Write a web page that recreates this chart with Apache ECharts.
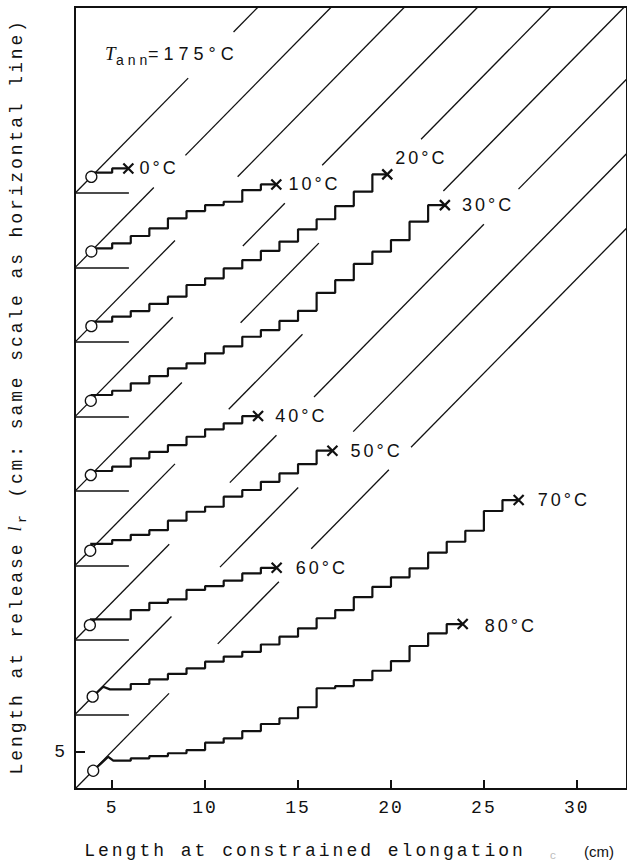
<!DOCTYPE html>
<html><head><meta charset="utf-8">
<script src="https://cdn.jsdelivr.net/npm/echarts@6/dist/echarts.min.js"></script>
<style>
html,body{margin:0;padding:0;background:#fff;}
#c{width:627px;height:864px;}
text[style*="tlabel"]{letter-spacing:3px;}
text[style*="xtitle"]{letter-spacing:3px;}
text[style*="ytitle"]{letter-spacing:2.9px;}
text[style*="tann"]{letter-spacing:5px;}
text[style*="tsub"]{letter-spacing:4px;}
text[style*="ticklbl"]{letter-spacing:2px;}
</style></head><body><div id="c"></div>
<script>
// ---------------- data (cm) ----------------
const temps = ['0°C','10°C','20°C','30°C','40°C','50°C','60°C','70°C','80°C'];
const baseLen = [35, 31, 27, 23, 19, 15, 11, 7, 3];          // vertical offset of each curve
const startX = [3.88, 3.88, 3.88, 3.85, 3.85, 3.82, 3.80, 3.95, 3.98];
const startY = [35.88, 31.87, 27.86, 23.85, 19.86, 15.80, 11.80, 7.96, 3.98];
const endX   = [5.87, 13.83, 19.80, 22.90, 12.85, 16.85, 13.85, 26.87, 23.86];
const firstRiser = [5, 5, 5, 5, 5, 5, 6, 6, 6];
const lv0  = [36.10, 36.33];
const lv10 = [32.04, 32.31, 32.70, 33.11, 33.65, 34.04, 34.36, 34.54, 35.17, 35.47];
const lv20 = [28.10, 28.37, 28.67, 29.05, 29.44, 30.07, 30.43, 30.96, 31.41, 31.90, 32.40, 33.06, 33.60, 34.31, 35.08, 36.01];
const lv30 = [24.16, 24.39, 24.79, 25.18, 25.59, 25.86, 26.40, 26.77, 27.29, 27.65, 28.14, 28.68, 29.65, 30.33, 31.20, 31.86, 32.48, 33.47, 34.36];
const lv40 = [20.08, 20.31, 20.76, 21.11, 21.47, 21.92, 22.32, 22.64, 23.03];
const lv50 = [16.16, 16.37, 16.65, 16.90, 17.41, 17.89, 18.16, 18.70, 19.06, 19.50, 19.95, 20.45, 21.17];
const lv60 = [12.11, 12.61, 13.00, 13.18, 13.69, 13.90, 14.19, 14.58, 14.88];
const lv70 = [8.35, 8.64, 8.89, 9.18, 9.48, 9.84, 10.11, 10.37, 10.76, 11.18, 11.63, 12.17, 12.61, 13.30, 13.86, 14.37, 14.85, 15.69, 16.28, 16.87, 17.93, 18.52];
const lv80 = [4.52, 4.65, 4.77, 4.92, 5.09, 5.49, 5.72, 6.11, 6.49, 6.80, 7.39, 8.41, 8.53, 8.85, 9.35, 9.87, 10.68, 11.36, 11.86];
const hook70 = [[4.52, 8.49], [4.88, 8.35]];
const hook80 = [[4.79, 4.73], [5.06, 4.52]];
const xTicks = [5, 10, 15, 20, 25, 30];
const yTicks = [5];
const baselineEnd = 5.9;
const diagSlope = 1.015;   // reference lines l_r = l_c (drawn slightly steeper than 45° in the original)

const levels = [lv0, lv10, lv20, lv30, lv40, lv50, lv60, lv70, lv80];
const hooks = [null, null, null, null, null, null, null, hook70, hook80];
const labelOffset = [[-8,0],[-7,0],[-11,-16],[-2,0],[-2,0],[-1,0],[0,0],[0,0],[3,2]];

// ---------------- layout ----------------
const G = {left: 75, top: 7, width: 553, height: 782};
const X0 = 3, X1 = 32.70, Y0 = 3, Y1 = 45;
const SX = G.width / (X1 - X0), SY = G.height / (Y1 - Y0);
const LABEL_DIST = 13;
function toPx(p) { return [G.left + (p[0] - X0) * SX, G.top + G.height - (p[1] - Y0) * SY]; }

function buildStairs(i) {
  const lv = levels[i], hk = hooks[i];
  const pts = hk ? [[startX[i], startY[i]]].concat(hk) : [[startX[i], lv[0]]];
  for (let k = 0; k < lv.length - 1; k++) {
    const rx = firstRiser[i] + k;
    pts.push([rx, lv[k]]);
    pts.push([rx, lv[k + 1]]);
  }
  pts.push([endX[i], lv[lv.length - 1]]);
  return pts;
}
const curves = temps.map((t, i) => buildStairs(i));
const curvesPx = curves.map(c => c.map(toPx));

const mctx = document.createElement('canvas').getContext('2d');
function textW(s, font, sp) { mctx.font = font; return mctx.measureText(s).width + sp * (s.length - 1); }
const rects = temps.map((t, i) => {
  const c = curves[i]; const e = toPx(c[c.length - 1]); const off = labelOffset[i];
  const x0 = e[0] + 5.5 + LABEL_DIST + off[0];
  const w = textW(t, '18px Liberation Sans', 3);
  const yc = e[1] + off[1];
  return {x0: x0, x1: x0 + w, y0: yc - 7, y1: yc + 7};
});
rects.push({x0: 105, x1: 238, y0: 44, y1: 66}); // T_ann annotation

function segDist(px, py, ax, ay, bx, by) {
  const dx = bx - ax, dy = by - ay, L = dx * dx + dy * dy;
  let t = L ? ((px - ax) * dx + (py - ay) * dy) / L : 0;
  t = Math.max(0, Math.min(1, t));
  const qx = ax + t * dx - px, qy = ay + t * dy - py;
  return Math.sqrt(qx * qx + qy * qy);
}
function rectDist(px, py, r) {
  const dx = Math.max(r.x0 - px, 0, px - r.x1), dy = Math.max(r.y0 - py, 0, py - r.y1);
  return Math.sqrt(dx * dx + dy * dy);
}
const GAP_CURVE = 14, GAP_TEXT = 12, STEP = 0.01, MIN_SEG = 0.6;
const diagY = (b, x) => b + diagSlope * (x - X0);
const diagSegs = [];
baseLen.forEach((b, i) => {
  const xEnd = Math.min(X1, X0 + (Y1 - b) / diagSlope);
  const N = Math.floor((xEnd - X0) / STEP);
  let run = null;
  const flush = () => { if (run && run[1] - run[0] > MIN_SEG) diagSegs.push({coords: [[run[0], diagY(b, run[0])], [run[1], diagY(b, run[1])]]}); run = null; };
  for (let s = 0; s <= N; s++) {
    const x = s === N ? xEnd : X0 + s * STEP;
    const p = toPx([x, diagY(b, x)]);
    let gap = false;
    for (let j = 0; j < curvesPx.length && !gap; j++) {
      if (j === i) continue;
      const c = curvesPx[j];
      for (let k = 0; k < c.length - 1; k++) {
        if (segDist(p[0], p[1], c[k][0], c[k][1], c[k + 1][0], c[k + 1][1]) < GAP_CURVE) { gap = true; break; }
      }
    }
    if (!gap) for (const r of rects) { if (rectDist(p[0], p[1], r) < GAP_TEXT) { gap = true; break; } }
    if (!gap) { if (!run) run = [x, x]; else run[1] = x; } else flush();
  }
  flush();
});

const INK = '#111';
const series = [];
series.push({type: 'lines', coordinateSystem: 'cartesian2d', silent: true, z: 1,
  lineStyle: {color: INK, width: 1.3, opacity: 1}, data: diagSegs});
series.push({type: 'lines', coordinateSystem: 'cartesian2d', silent: true, z: 1,
  lineStyle: {color: INK, width: 1.6, opacity: 1},
  data: baseLen.filter(b => b > Y0).map(b => ({coords: [[X0, b], [baselineEnd, b]]}))});
curves.forEach((c, i) => {
  series.push({type: 'line', data: c, showSymbol: false, silent: true, z: 3,
    lineStyle: {color: INK, width: 2.2, opacity: 1}});
});
series.push({type: 'scatter', z: 5, symbol: 'circle', symbolSize: 11, silent: true,
  itemStyle: {color: '#fff', borderColor: INK, borderWidth: 1.3, opacity: 1},
  data: startX.map((x, i) => [x, startY[i]])});
series.push({type: 'scatter', z: 5, symbol: 'path://M0,0L10,10M10,0L0,10', symbolSize: 10, silent: true,
  itemStyle: {color: 'transparent', borderColor: INK, borderWidth: 2.2, opacity: 1},
  label: {show: true, position: 'right', distance: LABEL_DIST, color: INK, opacity: 1,
    fontFamily: 'Liberation Sans, tlabel', fontSize: 18},
  data: curves.map((c, i) => ({value: c[c.length - 1], name: temps[i],
    label: {formatter: temps[i], offset: labelOffset[i]}}))});

const txt = (s, x, y, font, extra) => Object.assign({type: 'text', x: x, y: y, silent: true,
  style: {text: s, font: font, fill: INK, align: 'center', verticalAlign: 'middle', textAlign: 'center', textVerticalAlign: 'middle'}}, extra || {});
const chart = echarts.init(document.getElementById('c'), null, {renderer: 'svg'});
chart.setOption({
  animation: false,
  backgroundColor: '#fff',
  grid: {left: G.left, top: G.top, width: G.width, height: G.height, show: true,
    borderColor: INK, borderWidth: 2, backgroundColor: 'transparent'},
  xAxis: {type: 'value', min: X0, max: X1,
    axisLine: {show: true, onZero: false, lineStyle: {color: INK, width: 2}},
    axisTick: {show: true, inside: true, length: 9, customValues: xTicks, lineStyle: {color: INK, width: 2}},
    axisLabel: {show: true, customValues: xTicks, margin: 10, color: INK, fontFamily: 'Liberation Mono, ticklbl', fontSize: 18},
    splitLine: {show: false}},
  yAxis: {type: 'value', min: Y0, max: Y1,
    axisLine: {show: true, onZero: false, lineStyle: {color: INK, width: 2}},
    axisTick: {show: true, inside: true, length: 10, customValues: yTicks, lineStyle: {color: INK, width: 2}},
    axisLabel: {show: true, customValues: yTicks, margin: 8, color: INK, fontFamily: 'Liberation Mono, ticklbl', fontSize: 18},
    splitLine: {show: false}},
  graphic: [
    txt('Length at constrained elongation', 305, 851, '18px Liberation Mono, xtitle'),
    txt('c', 553, 856, '11px Liberation Mono', {style: {text: 'c', font: '11px Liberation Mono', fill: '#bbb', align: 'center', verticalAlign: 'middle'}}),
    txt('(cm)', 599, 851, '15px Liberation Sans'),
    txt('Length at release', 17, 658, '18px Liberation Mono, ytitle', {rotation: Math.PI / 2}),
    txt('l', 15, 529, 'italic 18px Liberation Serif', {rotation: Math.PI / 2}),
    txt('r', 22, 519, '13px Liberation Mono', {rotation: Math.PI / 2}),
    txt('(cm: same scale as horizontal line)', 17, 258, '18px Liberation Mono, ytitle', {rotation: Math.PI / 2}),
    {type: 'text', x: 105, y: 53, silent: true, style: {text: 'T', font: 'italic 19px Liberation Serif', fill: INK, align: 'left', verticalAlign: 'middle'}},
    {type: 'text', x: 116, y: 60, silent: true, style: {text: 'ann', font: '14px Liberation Sans, tsub', fill: INK, align: 'left', verticalAlign: 'middle'}},
    {type: 'text', x: 148, y: 54, silent: true, style: {text: '=175°C', font: '18px Liberation Sans, tann', fill: INK, align: 'left', verticalAlign: 'middle'}}
  ],
  series: series
});
</script></body></html>
